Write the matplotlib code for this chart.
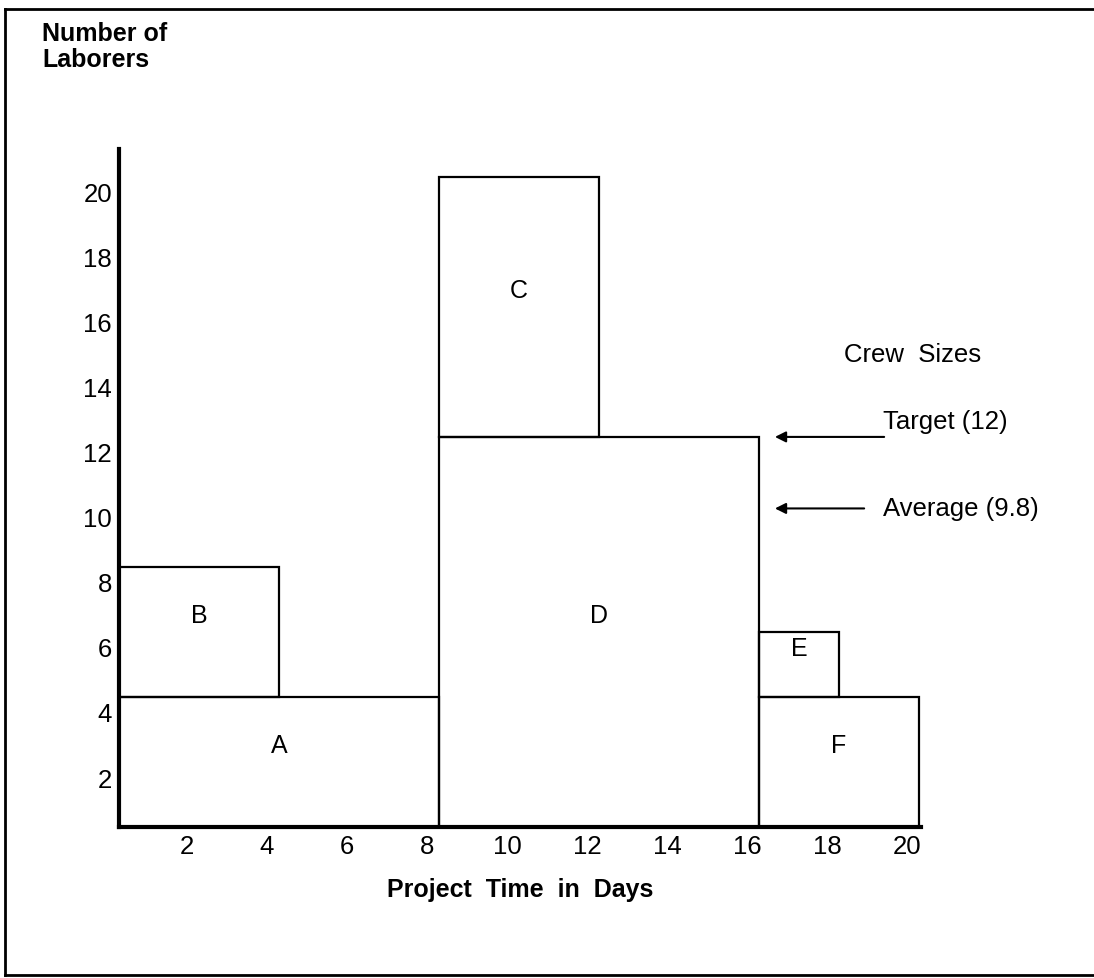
"""Resource histogram: crew sizes stacked over project time, with target / average markers."""

import matplotlib

matplotlib.use("Agg")
import matplotlib.pyplot as plt
from matplotlib.lines import Line2D
from matplotlib.transforms import ScaledTranslation

# activity blocks: start day, duration (days), stacked base and crew size (laborers)
TASKS = ["A", "B", "C", "D", "E", "F"]
START = [0, 0, 8, 8, 16, 16]
DURATION = [8, 4, 4, 8, 2, 4]
BASE = [0, 4, 12, 0, 4, 0]
CREW = [4, 4, 8, 12, 2, 4]

TARGET = 12
AVERAGE = 9.8

X_TICKS = [2, 4, 6, 8, 10, 12, 14, 16, 18, 20]
Y_TICKS = [2, 4, 6, 8, 10, 12, 14, 16, 18, 20]

plt.rcParams["font.family"] = ["Liberation Sans", "DejaVu Sans"]

fig = plt.figure(figsize=(10.94, 9.79), dpi=100)
ax = fig.add_axes([0.1088, 0.1542, 0.733, 0.6927])

ax.bar(START, CREW, width=DURATION, bottom=BASE, align="edge",
       fill=False, edgecolor="black", linewidth=1.6)
for name, s, d, b, c in zip(TASKS, START, DURATION, BASE, CREW):
    ax.annotate(name, (s + d / 2, b + c / 2), xytext=(0, 12), textcoords="offset points",
                ha="center", va="center", fontsize=18)

ax.set_xlim(0, 20.05)
ax.set_ylim(0, 20.86)
ax.set_xticks(X_TICKS)
ax.set_yticks(Y_TICKS)
ax.tick_params(length=0, labelsize=18.5, pad=5)
for s in ("top", "right"):
    ax.spines[s].set_visible(False)
for s in ("left", "bottom"):
    ax.spines[s].set_linewidth(3)

# the hand-drawn original sets its labels a little off the grid
for lab in ax.get_xticklabels():
    lab.set_transform(lab.get_transform() + ScaledTranslation(-12 / 100, 0, fig.dpi_scale_trans))
for lab in ax.get_yticklabels():
    lab.set_transform(lab.get_transform() + ScaledTranslation(0, -15 / 100, fig.dpi_scale_trans))

arrow = dict(arrowstyle="-|>", color="black", lw=1.5, mutation_scale=16)
ax.annotate("", xy=(16.33, TARGET), xytext=(19.2, TARGET), arrowprops=arrow,
            annotation_clip=False)
ax.annotate("", xy=(16.33, AVERAGE), xytext=(18.7, AVERAGE), arrowprops=arrow,
            annotation_clip=False)
ax.text(19.1, TARGET + 0.5, f"Target ({TARGET})", fontsize=18.5, va="center", clip_on=False)
ax.text(19.1, AVERAGE, f"Average ({AVERAGE})", fontsize=18.5, va="center", clip_on=False)
ax.text(19.85, 14.55, "Crew  Sizes", fontsize=18.5, ha="center", va="center", clip_on=False)

fig.text(42 / 1094, 1 - 22 / 979, "Number of\nLaborers", fontsize=18, fontweight="bold",
         ha="left", va="top", linespacing=1.1)
fig.text(520 / 1094, 1 - 890 / 979, "Project  Time  in  Days", fontsize=18,
         fontweight="bold", ha="center", va="center")

# frame round the figure (top, left, bottom only)
fx0, fx1 = 5 / 1094, 1.0
fy0, fy1 = 1 - 976 / 979, 1 - 10 / 979
fig.add_artist(Line2D([fx0, fx1], [fy1, fy1], color="black", lw=2))
fig.add_artist(Line2D([fx0, fx0], [fy0, fy1], color="black", lw=2))
fig.add_artist(Line2D([fx0, fx1], [fy0, fy0], color="black", lw=2))

fig.savefig("out.png", dpi=100)
